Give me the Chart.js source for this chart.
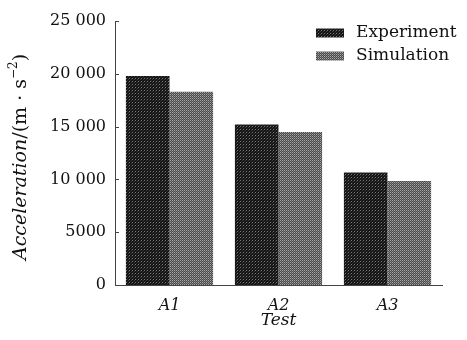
<!DOCTYPE html>
<html><head><meta charset="utf-8">
<script src="https://cdn.jsdelivr.net/npm/chart.js@4"></script>
<style>html,body{margin:0;padding:0;background:#fff;}</style>
</head><body>
<canvas id="c" width="467" height="340" style="width:467px;height:340px;display:block"></canvas>
<script>
const categories = ['A1', 'A2', 'A3'];
const seriesLabels = ['Experiment', 'Simulation'];
const experimentValues = [19800, 15200, 10650];
const simulationValues = [18300, 14500, 9850];
const yTickValues = [0, 5000, 10000, 15000, 20000, 25000];
const xTitle = 'Test';
const yTitleParts = ['Acceleration', '/(m · s', '−2', ')'];

function makePattern(size, base, dots) {
  const c = document.createElement('canvas');
  c.width = size; c.height = size;
  const g = c.getContext('2d');
  g.fillStyle = base; g.fillRect(0, 0, size, size);
  dots.forEach(d => { g.fillStyle = d[2]; g.fillRect(d[0], d[1], 1, 1); });
  return g.createPattern(c, 'repeat');
}
const expFill = makePattern(3, '#141414', [[0,0,'#7a7a7a'],[2,1,'#3e3e3e'],[1,2,'#2c2c2c']]);
const simFill = makePattern(2, '#4a4a4a', [[0,0,'#a8a8a8'],[1,1,'#7a7a7a']]);

const serif = "'DejaVu Serif', 'Liberation Serif', serif";

const inwardTicks = {
  id: 'inwardTicks',
  afterDraw(chart) {
    const ctx = chart.ctx, y = chart.scales.y, x = chart.scales.x;
    ctx.save();
    ctx.strokeStyle = '#444'; ctx.lineWidth = 1;
    y.ticks.forEach(t => {
      const py = Math.round(y.getPixelForValue(t.value)) + 0.5;
      ctx.beginPath(); ctx.moveTo(x.left, py); ctx.lineTo(x.left + 4, py); ctx.stroke();
    });
    ctx.restore();
  }
};

const customLegend = {
  id: 'customLegend',
  afterDraw(chart) {
    const ctx = chart.ctx, area = chart.chartArea;
    ctx.save();
    ctx.font = '17px ' + serif;
    ctx.textBaseline = 'middle';
    chart.data.datasets.forEach((ds, i) => {
      const cy = area.top + 12 + i * 23;
      const bx = area.right - 126;
      ctx.fillStyle = ds.backgroundColor;
      ctx.fillRect(bx, cy - 4.5, 28, 9);
      ctx.fillStyle = '#111';
      ctx.fillText(ds.label, bx + 40, cy);
    });
    ctx.restore();
  }
};

const yTitlePlugin = {
  id: 'yTitle',
  afterDraw(chart) {
    const ctx = chart.ctx, area = chart.chartArea;
    const fonts = ['italic 19px ' + serif, '19px ' + serif, '12px ' + serif, '19px ' + serif];
    ctx.save();
    const widths = yTitleParts.map((p, i) => { ctx.font = fonts[i]; return ctx.measureText(p).width; });
    const total = widths.reduce((a, b) => a + b, 0);
    ctx.translate(21, (area.top + area.bottom) / 2 + 4);
    ctx.rotate(-Math.PI / 2);
    ctx.fillStyle = '#111';
    ctx.textBaseline = 'middle';
    let pos = -total / 2;
    yTitleParts.forEach((p, i) => {
      ctx.font = fonts[i];
      ctx.fillText(p, pos, i === 2 ? -7 : 0);
      pos += widths[i];
    });
    ctx.restore();
  }
};

new Chart(document.getElementById('c'), {
  type: 'bar',
  data: {
    labels: categories,
    datasets: [
      { label: seriesLabels[0], data: experimentValues, backgroundColor: expFill, borderWidth: 0 },
      { label: seriesLabels[1], data: simulationValues, backgroundColor: simFill, borderWidth: 0 }
    ]
  },
  options: {
    responsive: false,
    animation: false,
    layout: { padding: { left: 0, right: 25, top: 21, bottom: 0 } },
    plugins: { legend: { display: false }, tooltip: { enabled: false } },
    datasets: { bar: { barPercentage: 1.0, categoryPercentage: 0.8 } },
    scales: {
      x: {
        grid: { display: false, drawTicks: false },
        border: { display: true, color: '#444', width: 1 },
        ticks: { color: '#111', font: { family: serif, size: 16, style: 'italic' }, padding: 11 },
        title: { display: true, text: xTitle, color: '#111', font: { family: serif, size: 17, style: 'italic' }, padding: { top: 0, bottom: 9 } },
        afterFit(s) { s.height = 55; }
      },
      y: {
        min: 0, max: 25000,
        afterBuildTicks(s) { s.ticks = yTickValues.map(v => ({ value: v })); },
        grid: { display: false, drawTicks: false },
        border: { display: true, color: '#444', width: 1 },
        ticks: {
          color: '#111', padding: 9,
          font: { family: serif, size: 16 },
          callback(v) { return v >= 10000 ? String(v).replace(/(\d+)(\d{3})$/, '$1 $2') : String(v); }
        },
        afterFit(s) { s.width = 115; }
      }
    }
  },
  plugins: [inwardTicks, customLegend, yTitlePlugin]
});
</script>
</body></html>
